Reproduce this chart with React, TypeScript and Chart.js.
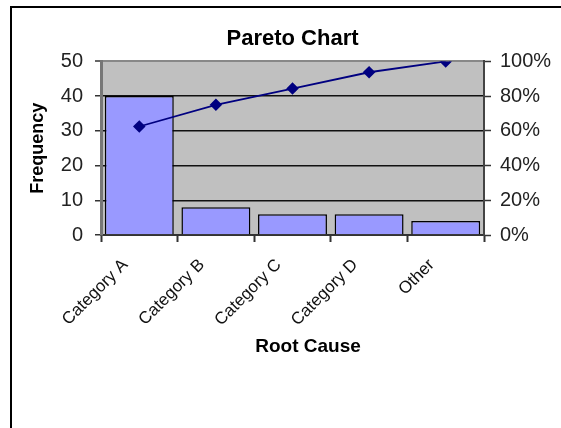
import React, { useEffect, useRef } from "react";
import { Chart, registerables } from "chart.js";

Chart.register(...registerables);

const categories = ["Category A", "Category B", "Category C", "Category D", "Other"];
const frequency = [40, 8, 6, 6, 4];
const cumulativePct = [0.625, 0.75, 0.84375, 0.9375, 1.0];
const leftTicks = [0, 10, 20, 30, 40, 50];
const rightTicks = [0, 0.2, 0.4, 0.6, 0.8, 1.0];

const FONT = "'Liberation Sans', Arial, sans-serif";
const W = 561;
const H = 428;

export default function App() {
  const ref = useRef<HTMLCanvasElement | null>(null);

  useEffect(() => {
    if (!ref.current) return;
    const bgPlugin = {
      id: "bg",
      beforeDraw(chart: any) {
        const { ctx, chartArea } = chart;
        ctx.save();
        ctx.fillStyle = "#ffffff";
        ctx.fillRect(0, 0, chart.width, chart.height);
        ctx.fillStyle = "#000000";
        ctx.fillRect(10, 6, 2, chart.height);
        ctx.fillRect(10, 6, chart.width, 2);
        ctx.fillStyle = "#C0C0C0";
        ctx.fillRect(chartArea.left, chartArea.top, chartArea.right - chartArea.left, chartArea.bottom - chartArea.top);
        ctx.restore();
      },
      afterDraw(chart: any) {
        const { ctx } = chart;
        ctx.save();
        ctx.fillStyle = "#000";
        ctx.font = `bold 19px ${FONT}`;
        ctx.textAlign = "center";
        ctx.textBaseline = "middle";
        ctx.fillText("Root Cause", 308, 347);
        ctx.restore();
      },
    };

    const chart = new Chart(ref.current, {
      type: "bar",
      data: {
        labels: categories,
        datasets: [
          {
            type: "line",
            label: "Cumulative %",
            data: cumulativePct,
            yAxisID: "y1",
            borderColor: "#000080",
            backgroundColor: "#000080",
            borderWidth: 1.8,
            pointStyle: "rectRot",
            pointRadius: 5,
            pointBackgroundColor: "#000080",
            pointBorderColor: "#000080",
            order: 0,
          } as any,
          {
            type: "bar",
            label: "Frequency",
            data: frequency,
            yAxisID: "y",
            backgroundColor: "#9999FF",
            borderColor: "#000000",
            borderWidth: 1.5,
            barPercentage: 0.9,
            categoryPercentage: 1.0,
            order: 1,
          },
        ],
      },
      options: {
        responsive: false,
        animation: false,
        devicePixelRatio: 1,
        layout: { padding: { left: 24, right: 0, top: 26, bottom: 0 } },
        plugins: {
          legend: { display: false },
          tooltip: { enabled: false },
          title: {
            display: true,
            text: "Pareto Chart",
            color: "#000",
            font: { family: FONT, size: 22, weight: "bold" },
            padding: { top: 0, bottom: 9 },
          },
        },
        scales: {
          x: {
            type: "category",
            offset: true,
            grid: {
              display: true,
              drawOnChartArea: false,
              drawTicks: true,
              tickLength: 7,
              tickColor: "#333",
              tickWidth: 2,
              offset: true,
            },
            border: { display: true, color: "#333", width: 2 },
            ticks: {
              color: "#111",
              font: { family: FONT, size: 17 },
              minRotation: 45,
              maxRotation: 45,
              labelOffset: -14,
              padding: 13,
              autoSkip: false,
            },
            afterFit(scale: any) {
              scale.height = H - 235;
            },
          },
          y: {
            position: "left",
            min: 0,
            max: 50,
            afterBuildTicks(scale: any) {
              scale.ticks = leftTicks.map((v) => ({ value: v }));
            },
            ticks: {
              color: "#222",
              font: { family: FONT, size: 20 },
              padding: 12,
            },
            grid: {
              color: (ctx: any) => (ctx.tick && ctx.tick.value === 50 ? "#888" : "#111"),
              lineWidth: (ctx: any) => (ctx.tick && ctx.tick.value === 50 ? 2 : 1.5),
              tickColor: "#333",
              tickLength: 6,
              tickWidth: 1.5,
            },
            border: { display: true, color: "#777", width: 3 },
            title: {
              display: true,
              text: "Frequency",
              color: "#000",
              font: { family: FONT, size: 18, weight: "bold" },
              padding: { top: 3, bottom: 0 },
            },
            afterFit(scale: any) {
              scale.width = 101 - 24;
            },
          },
          y1: {
            position: "right",
            min: 0,
            max: 1,
            afterBuildTicks(scale: any) {
              scale.ticks = rightTicks.map((v) => ({ value: v }));
            },
            ticks: {
              color: "#222",
              font: { family: FONT, size: 20 },
              padding: 9,
              callback: (v: any) => Math.round(Number(v) * 100) + "%",
            },
            grid: {
              drawOnChartArea: false,
              tickColor: "#333",
              tickLength: 7,
              tickWidth: 1.5,
            },
            border: { display: true, color: "#444", width: 2 },
            afterFit(scale: any) {
              scale.width = W - 484;
            },
          },
        },
      },
      plugins: [bgPlugin],
    });
    return () => chart.destroy();
  }, []);

  return (
    <div style={{ position: "fixed", left: 0, top: 0, width: W, height: H, overflow: "hidden", background: "#fff" }}>
      <canvas ref={ref} width={W} height={H} style={{ position: "absolute", left: 0, top: 0 }} />
    </div>
  );
}
